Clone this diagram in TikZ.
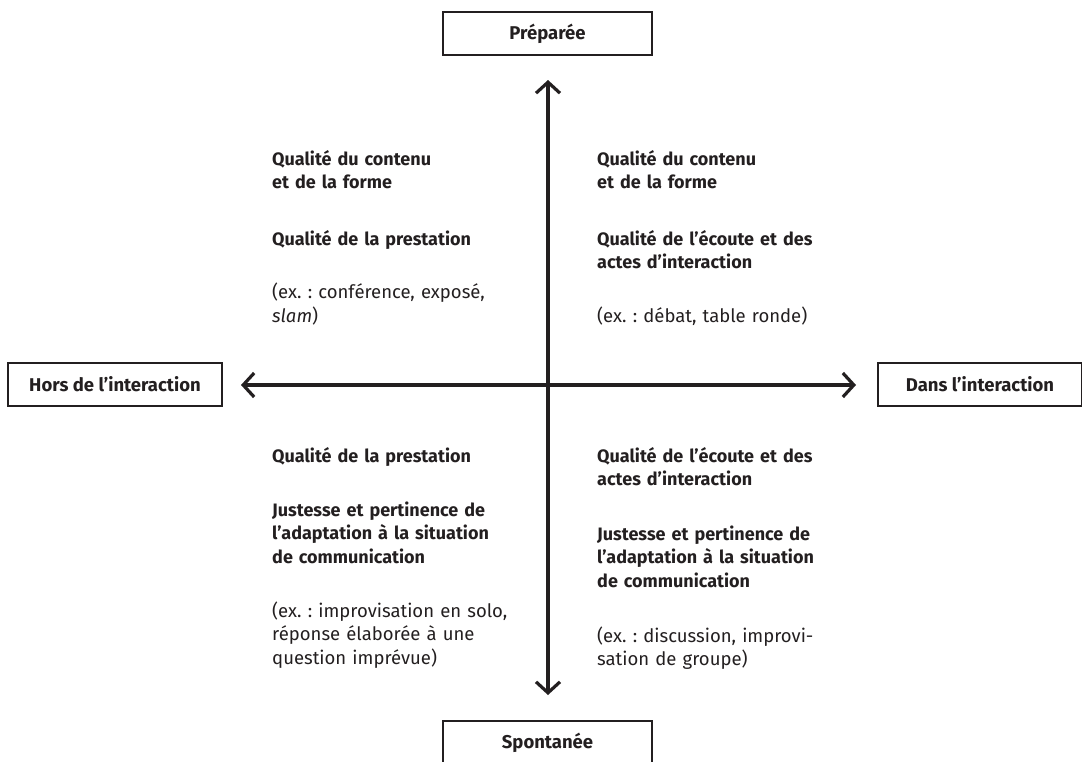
\documentclass[tikz,border=0pt]{standalone}
\usepackage{fontspec}
\setmainfont{Fira Sans}
\usetikzlibrary{arrows.meta}
\definecolor{ink}{HTML}{231F20}
\frenchspacing
\tikzset{
  axisbox/.style={draw=ink, line width=1.8pt, minimum height=43pt, inner sep=0pt,
    text=ink, font=\fontsize{18.5}{20}\selectfont\bfseries},
  axisarrow/.style={draw=ink, line width=3.2pt,
    {Straight Barb[length=11pt,width=24pt,line width=3.2pt]}-{Straight Barb[length=11pt,width=24pt,line width=3.2pt]}},
  para/.style={anchor=base west, inner sep=0pt, text width=270pt, align=left, text=ink,
    font=\fontsize{18.5}{23.5}\selectfont},
  bpara/.style={para, font=\fontsize{18}{23.5}\selectfont\bfseries},
}
\begin{document}
\begin{tikzpicture}[x=1pt,y=-1pt]
\useasboundingbox (0,0) rectangle (1082,761);
\clip (0,0) rectangle (1082,761);
% axis boxes
\node[axisbox, minimum width=209pt] (prep) at (547.5,33.5) {Préparée};
\node[axisbox, minimum width=209pt] (spon) at (547.5,742.5) {};
\node[text=ink, font=\fontsize{18.5}{20}\selectfont\bfseries, anchor=base] (sponlbl) at (547.5,748) {Spontanée};
\node[axisbox, minimum width=214pt] (hors) at (115,384.5) {Hors de l’interaction};
\node[axisbox, minimum width=204pt] (dans) at (980,384.5) {Dans l’interaction};
% axes
\coordinate (vtop) at (548,80);
\coordinate (vbot) at (548,695);
\coordinate (hleft) at (241,385);
\coordinate (hright) at (856,385);
\draw[axisarrow] (vbot) -- (vtop);
\draw[axisarrow] (hleft) -- (hright);
% top left
\node[bpara] (tl1) at (272,165) {Qualité du contenu\\et de la forme};
\node[bpara] (tl2) at (272,245) {Qualité de la prestation};
\node[para] (tl3) at (272,298.5) {(ex. : conférence, exposé,\\\textit{slam})};
% top right
\node[bpara] (tr1) at (597,165) {Qualité du contenu\\et de la forme};
\node[bpara] (tr2) at (597,245) {Qualité de l’écoute et des\\actes d’interaction};
\node[para] (tr3) at (597,322) {(ex. : débat, table ronde)};
% bottom left
\node[bpara] (bl1) at (272,462) {Qualité de la prestation};
\node[bpara] (bl2) at (272,516) {Justesse et pertinence de\\l’adaptation à la situation\\de communication};
\node[para] (bl3) at (272,617) {(ex. : improvisation en solo,\\réponse élaborée à une\\question imprévue)};
% bottom right
\node[bpara] (br1) at (597,462) {Qualité de l’écoute et des\\actes d’interaction};
\node[bpara] (br2) at (597,540) {Justesse et pertinence de\\l’adaptation à la situation\\de communication};
\node[para] (br3) at (597,642) {(ex. : discussion, improvi-\\sation de groupe)};
\end{tikzpicture}
\end{document}
